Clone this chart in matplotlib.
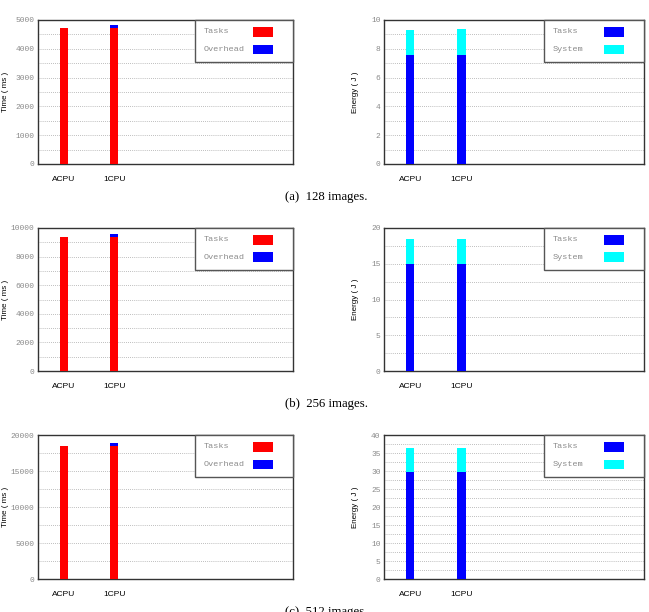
import matplotlib
matplotlib.use('Agg')
from matplotlib import pyplot as plt
from matplotlib.patches import Rectangle
from matplotlib.ticker import MultipleLocator

categories = ['ACPU', '1CPU']
image_counts = [128, 256, 512]
panel_tags = ['(a)', '(b)', '(c)']

# time in ms
time_tasks = [[4720, 4720], [9380, 9380], [18450, 18450]]
time_overhead = [[0, 110], [0, 200], [0, 370]]
time_ymax = [5000, 10000, 20000]
time_step = [1000, 2000, 5000]

# energy in J
energy_tasks = [[7.6, 7.6], [15.0, 15.0], [29.6, 29.6]]
energy_system = [[1.7, 1.75], [3.5, 3.5], [6.7, 6.7]]
energy_ymax = [10, 20, 40]
energy_step = [2, 5, 5]

W, H = 649, 612
fig = plt.figure(figsize=(W / 100, H / 100), dpi=100)

mono = 'Liberation Mono'
sans = 'Liberation Sans'
grey = '#8a8a8a'

row_top = [20, 228, 435]
row_h = [144, 143, 144]


def make_axes(x0, width, top, height):
    return fig.add_axes([x0 / W, 1 - (top + height) / H, width / W, height / H])


def style(ax, ymax, step, ylabel, label_x):
    ax.set_xlim(-0.51, 4.55)
    ax.set_ylim(0, ymax)
    ax.yaxis.set_major_locator(MultipleLocator(step))
    ax.yaxis.set_minor_locator(MultipleLocator(step / 2))
    ax.grid(True, which='both', axis='y', ls=(0, (1, 1.5)), color='#a8a8a8', lw=0.6)
    ax.set_axisbelow(True)
    ax.tick_params(axis='y', which='both', length=0, pad=2.5, labelsize=5.7,
                   labelcolor=grey)
    ax.tick_params(axis='x', length=0, pad=9, labelsize=6.0)
    for lab in ax.get_yticklabels():
        lab.set_family(mono)
    ax.set_xticks(range(len(categories)))
    ax.set_xticklabels(categories, family=sans)
    for s in ax.spines.values():
        s.set_color('#333333')
        s.set_linewidth(1.0)
    ax.set_ylabel(ylabel, family=sans, fontsize=5.8)
    ax.yaxis.set_label_coords(label_x, 0.5)


def legend_box(ax, names, colors):
    ax.add_patch(Rectangle((0.617, 0.708), 0.383, 0.292, transform=ax.transAxes,
                           facecolor='white', edgecolor='#555555', lw=1.0,
                           zorder=5, clip_on=False))
    for k, (name, c) in enumerate(zip(names, colors)):
        y = 0.917 - k * 0.122
        ax.text(0.65, y, name, transform=ax.transAxes, family=mono,
                fontsize=6.1, color=grey, va='center', zorder=6)
        ax.add_patch(Rectangle((0.845, y - 0.034), 0.078, 0.068,
                               transform=ax.transAxes, facecolor=c,
                               edgecolor='none', zorder=6))


x = list(range(len(categories)))
bw = 0.16
for r in range(3):
    top, h = row_top[r], row_h[r]

    ax = make_axes(38, 255, top, h)
    ax.bar(x, time_tasks[r], width=bw, color='#ff0000', zorder=3)
    ax.bar(x, time_overhead[r], width=bw, bottom=time_tasks[r], color='#0000ff', zorder=3)
    style(ax, time_ymax[r], time_step[r], 'Time ( ms )', -0.112)
    legend_box(ax, ['Tasks', 'Overhead'], ['#ff0000', '#0000ff'])

    ax2 = make_axes(384, 260, top, h)
    ax2.bar(x, energy_tasks[r], width=bw, color='#0000ff', zorder=3)
    ax2.bar(x, energy_system[r], width=bw, bottom=energy_tasks[r], color='#00ffff', zorder=3)
    style(ax2, energy_ymax[r], energy_step[r], 'Energy ( J )', -0.095)
    legend_box(ax2, ['Tasks', 'System'], ['#0000ff', '#00ffff'])

    fig.text(326 / W, 1 - (top + h + 33) / H,
             f'{panel_tags[r]}  {image_counts[r]} images.',
             family='Liberation Serif', fontsize=9.2, ha='center', va='center')

plt.savefig('out.png', dpi=100)
